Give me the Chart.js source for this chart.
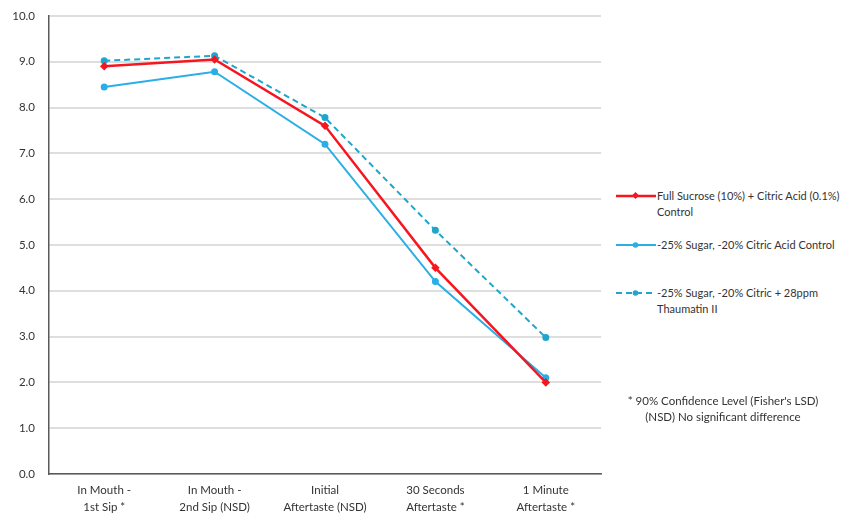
<!DOCTYPE html>
<html>
<head>
<meta charset="utf-8">
<script src="https://cdn.jsdelivr.net/npm/chart.js@4"></script>
<style>
  body { margin: 0; background: #fff; font-family: Lato, "Open Sans", sans-serif; }
  #wrap { position: relative; width: 846px; height: 519px; overflow: hidden; }
  #chart { position: absolute; left: 0; top: -5px; }
  .leg { position: absolute; font-size: 11px; color: #333; line-height: 16px; white-space: nowrap; }
  .leg svg { position: absolute; left: -41px; top: 0; }
  #note { position: absolute; left: 600px; top: 393px; width: 246px; text-align: center; font-size: 11.5px; color: #333; line-height: 16px; }
</style>
</head>
<body>
<div id="wrap">
  <canvas id="chart" width="610" height="524"></canvas>
  <div id="legend"></div>
  <div id="note">* 90% Confidence Level (Fisher's LSD)<br>(NSD) No significant difference</div>
</div>
<script>
const categories = [
  ["In Mouth -", "1st Sip *"],
  ["In Mouth -", "2nd Sip (NSD)"],
  ["Initial", "Aftertaste (NSD)"],
  ["30 Seconds", "Aftertaste *"],
  ["1 Minute", "Aftertaste *"]
];
const seriesNames = [
  ["Full Sucrose (10%) + Citric Acid (0.1%)", "Control"],
  ["-25% Sugar, -20% Citric Acid Control"],
  ["-25% Sugar, -20% Citric + 28ppm", "Thaumatin II"]
];
const fullSucrose = [8.9, 9.05, 7.6, 4.5, 2.0];
const reducedSugar = [8.45, 8.78, 7.2, 4.2, 2.1];
const reducedThaumatin = [9.02, 9.13, 7.78, 5.32, 2.98];
const yTicks = [0, 1, 2, 3, 4, 5, 6, 7, 8, 9, 10];

const colors = ["#f7161f", "#2aaee6", "#1fa6cc"];
const dashes = [[], [], [6, 4]];
const widths = [2.5, 2, 2];
const values = [fullSucrose, reducedSugar, reducedThaumatin];

const ctx = document.getElementById("chart").getContext("2d");

new Chart(ctx, {
  type: "line",
  data: {
    labels: categories,
    datasets: values.map((v, i) => ({
      label: seriesNames[i].join(" "),
      data: v,
      borderColor: colors[i],
      backgroundColor: colors[i],
      borderWidth: widths[i],
      borderDash: dashes[i],
      pointRadius: 2.5,
      pointStyle: i === 0 ? "rectRot" : "circle",
      tension: 0
    }))
  },
  options: {
    responsive: false,
    animation: false,
    layout: { padding: { top: 2, right: 9, left: 0, bottom: 0 } },
    plugins: { legend: { display: false }, tooltip: { enabled: false } },
    scales: {
      x: {
        offset: true,
        grid: { display: false, drawTicks: false, offset: true },
        border: { display: true, color: "#595959", width: 1.5 },
        ticks: { color: "#333", font: { family: "Lato", size: 11.5, lineHeight: 1.45 }, padding: 8, maxRotation: 0 },
        afterFit: (a) => { a.height = 45; }
      },
      y: {
        min: 0,
        max: 10,
        afterBuildTicks: (a) => { a.ticks = yTicks.map(v => ({ value: v })); },
        grid: { color: "#dedede", lineWidth: 2, drawTicks: false },
        border: { display: true, color: "#595959", width: 1.5 },
        ticks: { color: "#333", font: { family: "Lato", size: 11.5 }, padding: 14, callback: (v) => v.toFixed(1) },
        afterFit: (a) => { a.width = 49; }
      }
    }
  }
});

// legend entries drawn as HTML next to the canvas
const legendTops = [188, 237, 285];
const legend = document.getElementById("legend");
seriesNames.forEach((name, i) => {
  const d = document.createElement("div");
  d.className = "leg";
  d.style.left = "657px";
  d.style.top = legendTops[i] + "px";
  const marker = i === 0
    ? '<rect x="17" y="5" width="5" height="5" transform="rotate(45 19.5 7.5)" fill="' + colors[i] + '"/>'
    : '<circle cx="19.5" cy="8" r="2.8" fill="' + colors[i] + '"/>';
  d.innerHTML = '<svg width="41" height="16"><line x1="0" y1="8" x2="40" y2="8" stroke="' + colors[i] +
    '" stroke-width="' + widths[i] + '" stroke-dasharray="' + (dashes[i].join(",") || "none") + '"/>' + marker + '</svg>' +
    name.join("<br>");
  legend.appendChild(d);
});
</script>
</body>
</html>
